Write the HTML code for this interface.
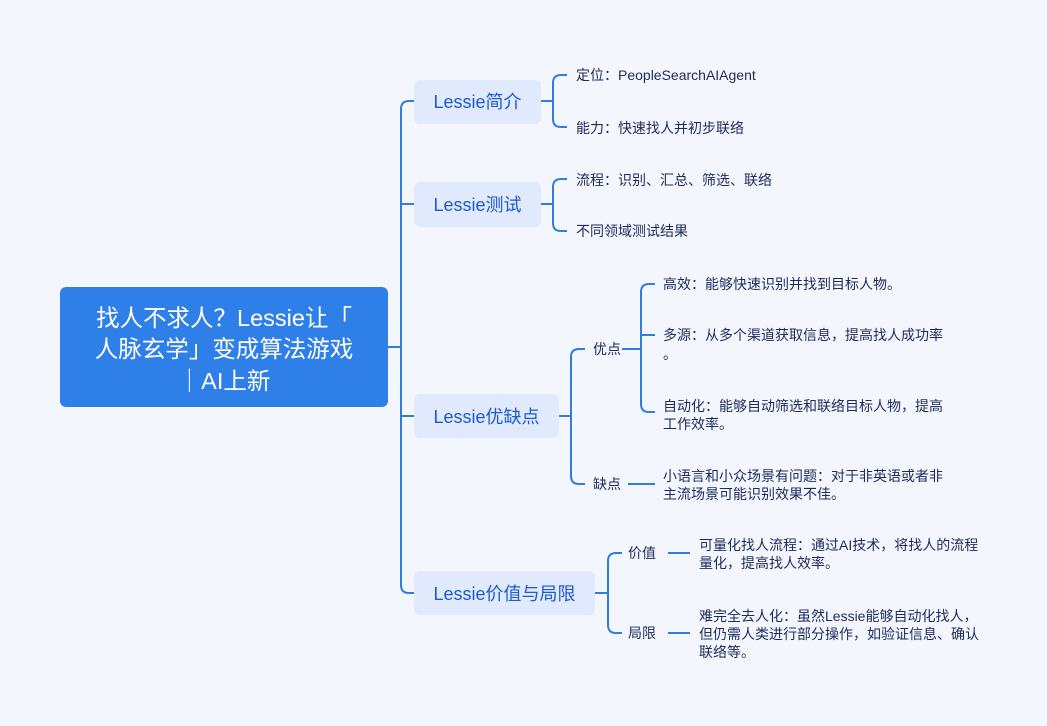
<!DOCTYPE html>
<html><head><meta charset="utf-8"><style>
html,body{margin:0;padding:0;background:#f4f6fd;}
svg{display:block;font-family:"Liberation Sans","Noto Sans CJK SC",sans-serif;}
.l{fill:none;stroke:#2f7de1;stroke-width:2;}
.b{fill:#e1e9fc;}
.t1{fill:#1a5bd0;font-size:18px;}
.t2{fill:#1e2a5a;font-size:14px;}
</style></head><body>
<svg width="1047" height="726" viewBox="0 0 1047 726">
<rect width="1047" height="726" fill="#f4f6fd"/>
<rect x="60" y="287" width="328" height="120" rx="6" fill="#2f7fe8"/>
<g fill="#fff" font-size="23.5" text-anchor="middle">
<text x="224" y="326">找人不求人？Lessie让「</text>
<text x="224" y="357">人脉玄学」变成算法游戏</text>
<text x="224" y="389">｜AI上新</text>
</g>
<path class="l" d="M388 347H401"/>
<path class="l" d="M414 101H409Q401 101 401 109V585Q401 593 409 593H414"/>
<path class="l" d="M401 204H414M401 416H414"/>
<rect class="b" x="414" y="80" width="127" height="44" rx="6"/>
<rect class="b" x="414" y="182" width="127" height="45" rx="6"/>
<rect class="b" x="414" y="394" width="145" height="44" rx="6"/>
<rect class="b" x="414" y="571" width="181" height="44" rx="6"/>
<g class="t1" text-anchor="middle">
<text x="477.5" y="108">Lessie简介</text>
<text x="477.5" y="211">Lessie测试</text>
<text x="486.5" y="423">Lessie优缺点</text>
<text x="504.5" y="600">Lessie价值与局限</text>
</g>
<path class="l" d="M541 101H553M567 75H561Q553 75 553 83V119Q553 127 561 127H567"/>
<path class="l" d="M541 204H553M567 179H561Q553 179 553 187V223Q553 231 561 231H567"/>
<path class="l" d="M559 416H571M585 349H579Q571 349 571 357V476Q571 484 579 484H585"/>
<path class="l" d="M595 593H608M622 553H616Q608 553 608 561V625Q608 633 616 633H622"/>
<path class="l" d="M622 349H641M655 284H649Q641 284 641 292V404Q641 412 649 412H655M641 335H655"/>
<path class="l" d="M628 484H655M668 553H690M668 633H690"/>
<g class="t2">
<text x="576" y="80">定位：PeopleSearchAIAgent</text>
<text x="576" y="133">能力：快速找人并初步联络</text>
<text x="576" y="185">流程：识别、汇总、筛选、联络</text>
<text x="576" y="236">不同领域测试结果</text>
<text x="593" y="354">优点</text>
<text x="593" y="489">缺点</text>
<text x="663" y="289">高效：能够快速识别并找到目标人物。</text>
<text x="663" y="340">多源：从多个渠道获取信息，提高找人成功率</text>
<text x="663" y="359">。</text>
<text x="663" y="411">自动化：能够自动筛选和联络目标人物，提高</text>
<text x="663" y="429">工作效率。</text>
<text x="663" y="481">小语言和小众场景有问题：对于非英语或者非</text>
<text x="663" y="499">主流场景可能识别效果不佳。</text>
<text x="628" y="558">价值</text>
<text x="628" y="638">局限</text>
<text x="699" y="550">可量化找人流程：通过AI技术，将找人的流程</text>
<text x="699" y="568">量化，提高找人效率。</text>
<text x="699" y="621">难完全去人化：虽然Lessie能够自动化找人，</text>
<text x="699" y="639">但仍需人类进行部分操作，如验证信息、确认</text>
<text x="699" y="657">联络等。</text>
</g>
</svg>
</body></html>
